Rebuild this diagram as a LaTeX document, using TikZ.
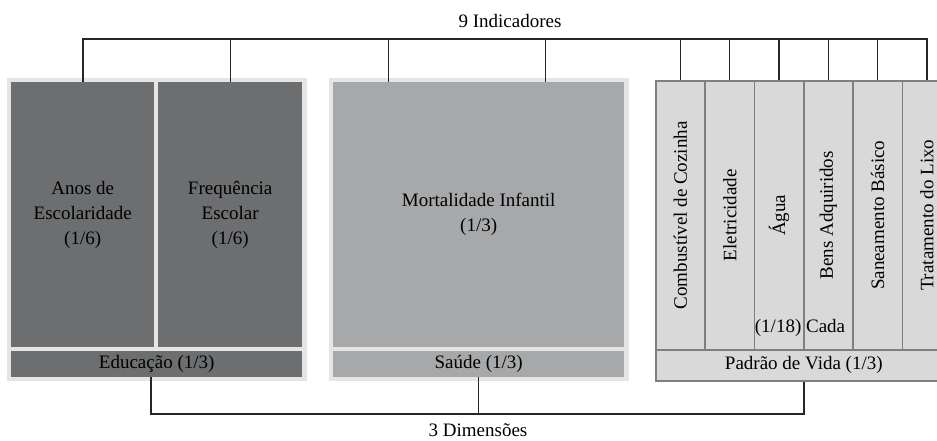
\documentclass[tikz,border=0pt]{standalone}
\usepackage{fontspec}
\setmainfont{Liberation Serif}
\usetikzlibrary{calc}

\definecolor{frameGray}{HTML}{E5E5E5}
\definecolor{eduGray}{HTML}{6D6E70}
\definecolor{healthGray}{HTML}{A7A8AA}
\definecolor{lifeGray}{HTML}{D9D9D9}
\definecolor{lifeLine}{HTML}{7F7F7F}

\tikzset{
  cell/.style={inner sep=0pt, anchor=north west, align=center,
    font=\fontsize{19}{25}\selectfont},
  educell/.style={cell, fill=eduGray},
  healthcell/.style={cell, fill=healthGray},
  lifecell/.style={cell, fill=lifeGray, draw=lifeLine, line width=1.6pt},
  caption/.style={font=\fontsize{19}{25}\selectfont, inner sep=0pt},
  bracket/.style={line width=1.7pt, draw=black!85},
  tick/.style={line width=1.4pt, draw=black!85},
}

\begin{document}
\begin{tikzpicture}[x=1pt,y=-1pt]
  \clip (0,0) rectangle (937,441);

  % light frames behind the first two groups
  \fill[frameGray] (7,78) rectangle (307,381);
  \fill[frameGray] (329,78) rectangle (629,381);

  % Educacao
  \node[educell, minimum width=143pt, minimum height=265pt] (anos) at (11,82) {Anos de\\Escolaridade\\(1/6)};
  \node[educell, minimum width=144pt, minimum height=265pt] (freq) at (158,82) {Frequência\\Escolar\\(1/6)};
  \node[educell, minimum width=291pt, minimum height=26pt] (edu) at (11,351) {Educação (1/3)};

  % Saude
  \node[healthcell, minimum width=291pt, minimum height=265pt] (mort) at (333,82) {Mortalidade Infantil\\(1/3)};
  \node[healthcell, minimum width=291pt, minimum height=26pt] (saude) at (333,351) {Saúde (1/3)};

  % Padrao de vida
  \foreach \name/\txt [count=\i from 0] in {comb/Combustível de Cozinha, elet/Eletricidade,
      agua/Água, bens/Bens Adquiridos, san/Saneamento Básico, lixo/Tratamento do Lixo}
    \node[lifecell, minimum width=49.3pt, minimum height=269pt] (\name) at (655+49.3*\i,80) {\rotatebox{90}{\txt}};
  \node[lifecell, minimum width=296pt, minimum height=31pt] (padrao) at (655,349) {Padrão de Vida (1/3)};
  \node[caption] (cada) at (800,328) {(1/18) Cada};

  % top bracket
  \coordinate (topbar) at (0,39);
  \coordinate (mortA) at ($(mort.north west)!0.19!(mort.north east)$);
  \coordinate (mortB) at ($(mort.north west)!0.73!(mort.north east)$);
  \draw[bracket] (anos.north) |- (lixo.north |- topbar) -- (lixo.north);
  \foreach \n in {freq, mortA, mortB, comb, elet, agua, bens, san}
    \draw[tick] (\n.north) -- (\n.north |- topbar);
  \node[caption] (indicadores) at (510,21) {9 Indicadores};

  % bottom bracket
  \coordinate (botbar) at (0,414);
  \draw[bracket] ([xshift=-6pt]edu.south) |- (padrao.south |- botbar) -- (padrao.south);
  \draw[tick] (saude.south) -- (saude.south |- botbar);
  \node[caption] (dimensoes) at (478,430) {3 Dimensões};
\end{tikzpicture}
\end{document}
